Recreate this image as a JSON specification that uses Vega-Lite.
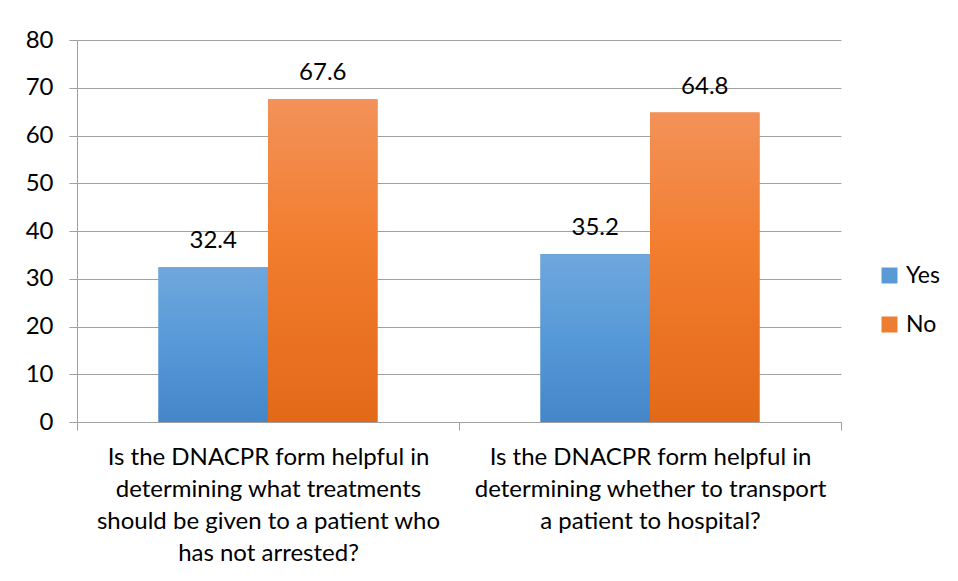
{
  "$schema": "https://vega.github.io/schema/vega-lite/v6.json",
  "width": 764,
  "height": 382,
  "autosize": "none",
  "padding": {"left": 77, "top": 40, "right": 117, "bottom": 159},
  "background": "white",
  "config": {
    "view": {"stroke": null},
    "font": "Lato",
    "axis": {"labelFont": "Lato", "labelColor": "#000000", "domainColor": "#A0A0A0", "tickColor": "#A0A0A0", "gridColor": "#A0A0A0", "domainWidth": 1, "tickWidth": 1, "gridWidth": 1}
  },
  "data": {
    "values": [
      {"question": "Is the DNACPR form helpful in determining what treatments should be given to a patient who has not arrested?", "answer": "Yes", "percent": 32.4},
      {"question": "Is the DNACPR form helpful in determining what treatments should be given to a patient who has not arrested?", "answer": "No", "percent": 67.6},
      {"question": "Is the DNACPR form helpful in determining whether to transport a patient to hospital?", "answer": "Yes", "percent": 35.2},
      {"question": "Is the DNACPR form helpful in determining whether to transport a patient to hospital?", "answer": "No", "percent": 64.8}
    ]
  },
  "encoding": {
    "x": {
      "field": "question", "type": "nominal", "sort": null,
      "scale": {"paddingInner": 0, "paddingOuter": 0},
      "axis": {
        "title": null, "labelAngle": 0, "tickBand": "extent", "tickSize": 8, "grid": false,
        "labelFontSize": 24, "labelLineHeight": 32, "labelPadding": 15, "labelBaseline": "top",
        "labelLimit": 0, "labelOverlap": false,
        "labelExpr": "datum.index == 0 ? ['Is the DNACPR form helpful in', 'determining what treatments', 'should be given to a patient who', 'has not arrested?'] : (datum.index == 1 ? ['Is the DNACPR form helpful in', 'determining whether to transport', 'a patient to hospital?'] : '')"
      }
    },
    "xOffset": {"field": "answer", "type": "nominal", "sort": ["Yes", "No"], "scale": {"paddingInner": 0, "paddingOuter": 0.744}},
    "y": {
      "field": "percent", "type": "quantitative",
      "scale": {"domain": [0, 80], "nice": false},
      "axis": {"title": null, "values": [0, 10, 20, 30, 40, 50, 60, 70, 80], "tickSize": 8, "labelFontSize": 24, "labelPadding": 16, "grid": true, "domain": true}
    }
  },
  "layer": [
    {
      "mark": {"type": "bar"},
      "encoding": {
        "color": {
          "field": "answer", "type": "nominal", "sort": ["Yes", "No"],
          "scale": {"domain": ["Yes", "No"], "range": ["#5B9BD5", "#ED7D31"]},
          "legend": {
            "title": null, "orient": "none", "legendX": 801, "legendY": 224,
            "symbolType": "square", "symbolSize": 256, "symbolStrokeWidth": 0,
            "labelFontSize": 23, "labelFont": "Lato", "labelColor": "#000000", "labelOffset": 5, "rowPadding": 25
          }
        }
      }
    },
    {
      "transform": [{"filter": "datum.answer === 'Yes'"}],
      "mark": {"type": "bar", "fill": {"gradient": "linear", "x1": 0, "y1": 0, "x2": 0, "y2": 1, "stops": [{"offset": 0, "color": "#6FA7DC"}, {"offset": 0.5, "color": "#5699D8"}, {"offset": 1, "color": "#4486C8"}]}}
    },
    {
      "transform": [{"filter": "datum.answer === 'No'"}],
      "mark": {"type": "bar", "fill": {"gradient": "linear", "x1": 0, "y1": 0, "x2": 0, "y2": 1, "stops": [{"offset": 0, "color": "#F29259"}, {"offset": 0.45, "color": "#F27D2E"}, {"offset": 1, "color": "#E26918"}]}}
    },
    {
      "mark": {"type": "text", "baseline": "middle", "dy": -26, "fontSize": 24, "font": "Lato", "color": "#000000"},
      "encoding": {"text": {"field": "percent", "type": "quantitative", "format": ".1f"}}
    }
  ]
}
